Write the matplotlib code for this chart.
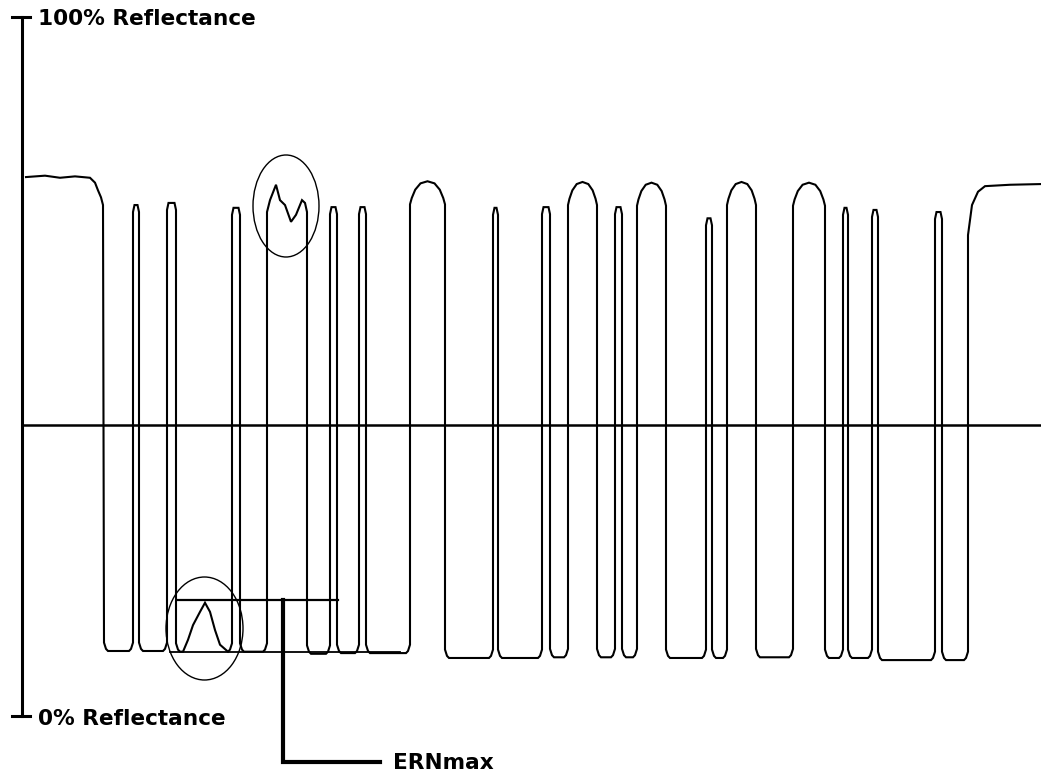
import matplotlib
matplotlib.use("Agg")
import matplotlib.pyplot as plt
from matplotlib.patches import Ellipse

# scan reflectance profile: x = scan position, y = reflectance (%)
space_left  = [133, 167, 232, 267, 330, 359, 410, 493, 542, 568, 615, 637, 706, 727, 793, 843, 872, 935]
space_right = [139, 176, 240, 307, 337, 366, 445, 498, 550, 597, 622, 666, 712, 756, 825, 848, 878, 942]
space_top   = [73.1, 73.4, 72.7, 72.1, 72.8, 72.8, 76.5, 72.7, 72.8, 76.4, 72.8, 76.3,
               71.2, 76.4, 76.3, 72.7, 72.4, 72.1]
bar_bottom  = [9.3, 9.3, 9.2, 9.2, 8.9, 9.0, 9.0, 8.3, 8.3, 8.4, 8.4, 8.4, 8.3, 8.3,
               8.4, 8.3, 8.3, 8.0, 8.0]

# quiet zones
left_zone_x  = [26, 45, 60, 75, 90, 95, 98, 101, 103]
left_zone_y  = [77.1, 77.3, 77.0, 77.2, 77.0, 76.3, 75.2, 74.2, 73.1]
right_zone_x = [968, 972, 978, 985, 1010, 1041]
right_zone_y = [68.8, 73.1, 75.0, 75.8, 76.0, 76.1]

# defects: void inside bar 3, spot on top of space 4
void_bar = 2
void_x = [183, 188, 193, 200, 205, 210, 215, 220, 228]
void_y = [9.2, 10.9, 13.0, 14.9, 16.2, 14.9, 12.3, 10.2, 9.2]
spot_space = 3
spot_x = [270, 276, 280, 285, 291, 296, 300, 302, 305]
spot_y = [73.8, 76.0, 73.8, 73.1, 70.7, 71.7, 73.1, 73.8, 73.4]

# ERNmax markers
ern_top = 16.6
ern_base = 9.2

def px(y):
    # pixel row in the original picture -> reflectance %
    return (716 - y) / 699 * 100

#######################################################################################
# Building the trace
xs, ys = list(left_zone_x), list(left_zone_y)
bar_start = [104] + space_right
bar_end = space_left + [right_zone_x[0]]
for i in range(len(bar_bottom)):
    a, b, lo = bar_start[i], bar_end[i], bar_bottom[i]
    xs += [a, a + 2, a + 4]
    ys += [lo + 1.2, lo + 0.3, lo]
    if i == void_bar:
        xs += void_x
        ys += void_y
    xs += [b - 4, b - 2, b]
    ys += [lo, lo + 0.3, lo + 1.2]
    if i == len(space_left):
        break
    l, r, top = space_left[i], space_right[i], space_top[i]
    w = r - l
    if i == spot_space:
        xs += [l] + spot_x + [r]
        ys += [top] + spot_y + [top]
    elif w > 20:
        xs += [l, l + 0.05 * w, l + 0.15 * w, l + 0.3 * w, l + 0.5 * w,
               r - 0.3 * w, r - 0.15 * w, r - 0.05 * w, r]
        ys += [top - 3.3, top - 2.4, top - 1.2, top - 0.3, top,
               top - 0.3, top - 1.2, top - 2.4, top - 3.3]
    else:
        xs += [l, l + 1.5, r - 1.5, r]
        ys += [top - 1.0, top, top, top - 1.0]
xs += right_zone_x
ys += right_zone_y

#######################################################################################
fig = plt.figure(figsize=(10.41, 7.71), dpi=100, facecolor='w')
ax = fig.add_axes([0, 0, 1, 1])
ax.set_xlim(0, 1041)
ax.set_ylim(px(771), px(0))
ax.axis('off')

ax.plot(xs, ys, color='k', lw=1.5, solid_joinstyle='miter')

# threshold line
ax.plot([22, 1041], [px(425), px(425)], color='k', lw=1.8)

# reflectance scale
ax.plot([22, 22], [100, 0], color='k', lw=2.2)
ax.plot([12, 30], [100, 100], color='k', lw=2.2)
ax.plot([12, 30], [0, 0], color='k', lw=2.2)
font = dict(fontsize=15.6, fontweight='bold', family='DejaVu Sans', va='center', ha='left')
ax.text(38, px(19), "100% Reflectance", **font)
ax.text(38, px(719), "0% Reflectance", **font)

# defect circles
ax.add_patch(Ellipse((286, px(206)), 66, 102 / 6.99, fill=False, lw=1.0, ec='k'))
ax.add_patch(Ellipse((204.5, px(628.5)), 77, 103 / 6.99, fill=False, lw=1.0, ec='k'))

# ERNmax
ax.plot([178, 338], [ern_top, ern_top], color='k', lw=1.6)
ax.plot([170, 400], [ern_base, ern_base], color='k', lw=1.3)
ax.plot([283, 283, 380], [ern_top, px(762), px(762)], color='k', lw=3, solid_joinstyle='miter')
ax.text(393, px(763), "ERNmax", **font)

plt.savefig("out.png", dpi=100)
